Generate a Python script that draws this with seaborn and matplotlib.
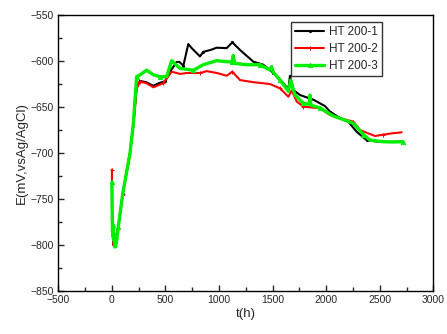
import matplotlib
matplotlib.use("Agg")
import matplotlib.pyplot as plt
import seaborn as sns
import pandas as pd
from matplotlib.ticker import MultipleLocator

# datos (t en h, E en mV)
t_ht1 = [0, 2, 5, 10, 15, 25, 40, 60, 100, 169, 200, 231, 262, 320, 387, 440, 496, 542, 605, 630, 667, 713,
         745, 822, 853, 920, 978, 1071, 1124, 1196, 1320, 1413, 1507, 1600, 1647, 1662, 1694, 1756, 1880,
         1989, 2036, 2129, 2207, 2285, 2378, 2502, 2600, 2705]
e_ht1 = [-770, -775, -785, -795, -800, -799, -795, -780, -745, -700, -670, -628, -621.7, -623, -627, -624,
         -622, -611.6, -601, -601, -605, -581.5, -586, -595, -590, -588, -585.5, -586, -579.7, -588, -600.7,
         -604, -613, -624, -630.8, -616, -631.5, -637, -642, -649, -655, -662, -666, -677, -686, -688,
         -688, -687.5]

t_ht2 = [0, 2, 5, 10, 15, 25, 40, 60, 100, 169, 200, 231, 262, 320, 387, 440, 480, 558, 636, 700, 822,
         885, 980, 1071, 1124, 1196, 1320, 1476, 1569, 1647, 1678, 1725, 1787, 1942, 2036, 2129, 2254,
         2316, 2378, 2456, 2534, 2620, 2705]
e_ht2 = [-718, -760, -775, -790, -800, -800, -796, -780, -745, -700, -670, -630, -622.5, -624, -628.6,
         -626, -624, -611.6, -614, -613, -613, -611, -613, -616, -611.6, -620.7, -623, -625, -629.7,
         -638.8, -632, -644, -649.6, -651.4, -658.7, -662, -666, -675, -678, -681.5, -680, -678.5, -677.5]

t_ht3 = [0, 2, 4, 6, 8, 10, 14, 18, 22, 28, 35, 45, 60, 100, 169, 200, 231, 262, 324, 387, 449, 511,
         558, 636, 760, 853, 978, 1071, 1120, 1133, 1146, 1258, 1382, 1476, 1490, 1505, 1569, 1647, 1669,
         1709, 1787, 1840, 1849, 1858, 1942, 2067, 2191, 2254, 2347, 2409, 2534, 2620, 2714]
e_ht3 = [-732, -760, -772, -785, -778, -790, -782, -795, -788, -802, -802, -795, -780, -745, -700, -668,
         -617, -615, -610, -615, -617, -617, -599.6, -608, -610, -604, -599.6, -600.7, -601, -594, -602.5,
         -604, -604, -609.8, -606, -612, -620.7, -633, -620.7, -637, -646, -647, -637, -648, -651, -659.8,
         -664.9, -667.8, -680, -686, -687.7, -688, -687.7]

nombres = ["HT200-1", "HT200-2", "HT200-3"]
etiquetas = ["HT 200-1", "HT 200-2", "HT 200-3"]
colores = ["black", "red", "#00ee00"]
marcadores = [".", "+", "^"]
anchos = [1.5, 1.5, 2.4]

sns.set_style("ticks")
plt.rcParams["font.family"] = ["Liberation Sans", "DejaVu Sans"]

f = pd.concat([
    pd.DataFrame({"t": t_ht1, "E": e_ht1, "serie": nombres[0]}),
    pd.DataFrame({"t": t_ht2, "E": e_ht2, "serie": nombres[1]}),
    pd.DataFrame({"t": t_ht3, "E": e_ht3, "serie": nombres[2]}),
])

fig = plt.figure(figsize=(4.47, 3.34), dpi=100)
ax = fig.add_axes([0.1305, 0.1287, 0.8389, 0.8263])

for nombre, etiqueta, color, m, lw in zip(nombres, etiquetas, colores, marcadores, anchos):
    d = f[f["serie"] == nombre]
    sns.lineplot(x="t", y="E", data=d, sort=False, color=color, lw=lw, marker=m,
                 markersize=3, markeredgecolor=color, markevery=4, label=etiqueta, ax=ax)

ax.set_xlim(-500, 3000)
ax.set_ylim(-850, -550)
ax.xaxis.set_major_locator(MultipleLocator(500))
ax.xaxis.set_minor_locator(MultipleLocator(250))
ax.yaxis.set_major_locator(MultipleLocator(50))
ax.yaxis.set_minor_locator(MultipleLocator(25))
ax.tick_params(which="major", direction="in", length=4, width=1, labelsize=7.5, pad=3)
ax.tick_params(which="minor", direction="in", length=3, width=1)
for s in ax.spines.values():
    s.set_linewidth(1)
    s.set_color("black")

ax.set_xlabel("t(h)", fontsize=9.5, labelpad=2)
ax.set_ylabel("E(mV,vsAg/AgCl)", fontsize=9.5, labelpad=2)

leg = ax.legend(loc="upper right", bbox_to_anchor=(0.8635, 0.976), borderaxespad=0, fontsize=8.5,
                frameon=True, fancybox=False, edgecolor="black", handlelength=2.5, borderpad=0.35,
                labelspacing=0.42, handletextpad=0.4)
leg.get_frame().set_linewidth(1)

plt.savefig("out.png", dpi=100)
